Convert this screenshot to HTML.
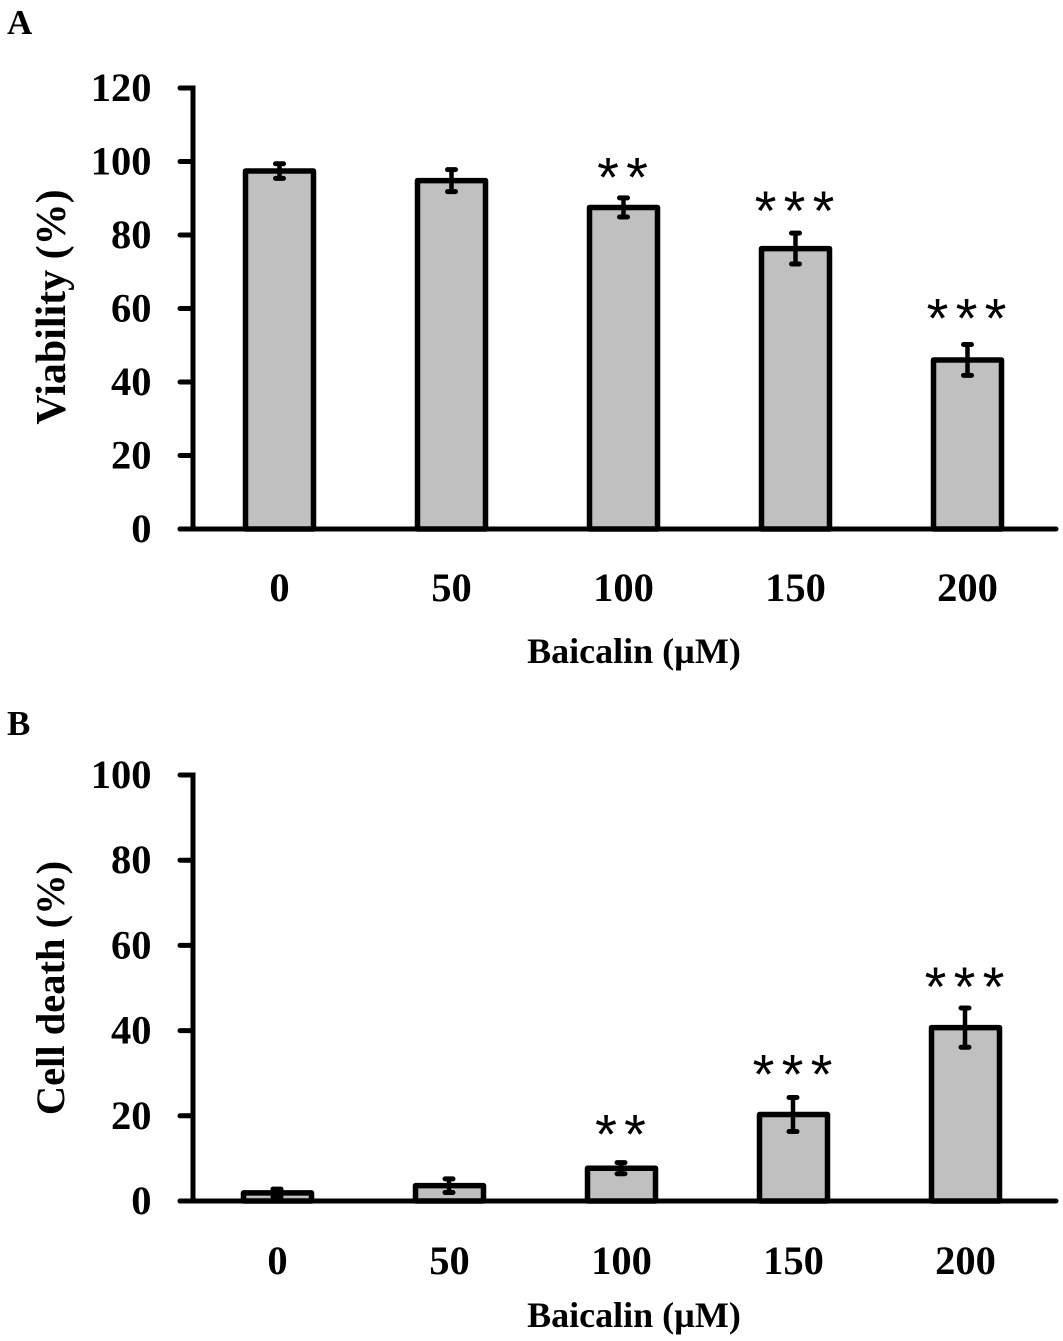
<!DOCTYPE html>
<html lang="en">
<head>
<meta charset="utf-8">
<title>Baicalin viability and cell death</title>
<style>
html,body{margin:0;padding:0;background:#fff;}
svg{display:block;}
text{font-family:"Liberation Serif",serif;font-weight:bold;fill:#000;}
</style>
</head>
<body>
<svg id="figure" xmlns="http://www.w3.org/2000/svg" width="1063" height="1341" viewBox="0 0 1063 1341"></svg>
<script>
const categories = ["0", "50", "100", "150", "200"];
const viabilityValues = [97.4, 94.8, 87.5, 76.3, 46.0];
const viabilityErrors = [2.0, 3.0, 2.6, 4.2, 4.2];
const viabilitySignificance = ["", "", "**", "***", "***"];
const viabilityStarGap = [0, 0, 7.4, 7.9, 9.0];
const viabilityTicks = [0, 20, 40, 60, 80, 100, 120];
const deathValues = [1.9, 3.6, 7.7, 20.3, 40.7];
const deathErrors = [0.9, 1.6, 1.3, 4.0, 4.6];
const deathSignificance = ["", "", "**", "***", "***"];
const deathStarGap = [0, 0, 8.2, 7.0, 6.6];
const deathTicks = [0, 20, 40, 60, 80, 100];

const NS = "http://www.w3.org/2000/svg";
const svg = document.getElementById("figure");

function make(tag, attrs, parent, text) {
  const el = document.createElementNS(NS, tag);
  for (const k in attrs) el.setAttribute(k, attrs[k]);
  if (text !== undefined) el.textContent = text;
  parent.appendChild(el);
  return el;
}

function drawPanel(cfg) {
  const g = make("g", {}, svg);
  
  
  const maxTick = cfg.ticks[cfg.ticks.length - 1];
  const y = v => cfg.y0 - (v / maxTick) * (cfg.y0 - cfg.yTop);
  const x = i => cfg.x0 + i * cfg.step;

  const letter = make("text", {x: cfg.letterX, y: cfg.letterY, "font-size": 35}, g, cfg.letter);
  
  

  cfg.values.forEach((v, i) => {
    const left = x(i) - cfg.barW / 2;
    const bar = make("rect", {x: left, y: y(v), width: cfg.barW, height: cfg.y0 - y(v),
      fill: "#c0c0c0", stroke: "#000", "stroke-width": 5.5, "stroke-linejoin": "round"}, g);
    
    

    const hi = y(v + cfg.errors[i]);
    const lo = y(v - cfg.errors[i]);
    const ex = x(i) + cfg.errDx;
    const eb = make("path", {d: `M${ex} ${hi}V${lo}`, stroke: "#000", "stroke-width": 4.5, fill: "none"}, g);
    
    
    const caps = make("path", {d: `M${ex - 4} ${hi}H${ex + 4}M${ex - 4} ${lo}H${ex + 4}`,
      stroke: "#000", "stroke-width": 5, "stroke-linecap": "round", fill: "none"}, g);
    
    

    if (cfg.sig[i]) {
      const n = cfg.sig[i].length;
      const starCentre = y(v + cfg.errors[i] + cfg.starGap[i]);
      for (let s = 0; s < n; s++) {
        const star = make("text", {x: x(i) + (s - (n - 1) / 2) * 29 - 1, y: starCentre + 26,
          "font-size": 56, "text-anchor": "middle", style: 'font-family:"Liberation Sans",sans-serif;font-weight:normal'}, g, "*");
        
        
      }
    }

    const lab = make("text", {x: x(i), y: cfg.catY, "font-size": 40.5, "text-anchor": "middle"}, g, categories[i]);
    
    
  });

  cfg.ticks.forEach(t => {
    const tick = make("path", {d: `M180 ${y(t)}H191`, stroke: "#000", "stroke-width": 5, "stroke-linecap": "round"}, g);
    
    
    const lab = make("text", {x: 151.5, y: y(t) + 13, "font-size": 40.5, "text-anchor": "end"}, g, String(t));
    
    
  });

  const yAxis = make("path", {d: `M193 ${cfg.yTop - 2.5}V${cfg.y0}`, stroke: "#000", "stroke-width": 5, fill: "none"}, g);
  
  
  const xAxis = make("path", {d: `M180 ${cfg.y0}H1056`, stroke: "#000", "stroke-width": 5, "stroke-linecap": "round", fill: "none"}, g);
  
  

  const yt = make("text", {transform: `translate(${cfg.yTitleX} ${cfg.yTitleY}) rotate(-90)`,
    "font-size": cfg.yTitleSize, "text-anchor": "middle"}, g, cfg.yTitle);
  
  
  const xt = make("text", {x: 634, y: cfg.xTitleY, "font-size": 36, "text-anchor": "middle"}, g, "Baicalin (\u00B5M)");
  
  
}

drawPanel({
  name: "viability-panel", letter: "A", letterX: 7, letterY: 34,
  values: viabilityValues, errors: viabilityErrors, sig: viabilitySignificance, starGap: viabilityStarGap, ticks: viabilityTicks,
  y0: 529, yTop: 88, x0: 279.5, step: 172, barW: 68, errDx: 0,
  catY: 601, xTitleY: 663, yTitle: "Viability (%)", yTitleSize: 42, yTitleX: 65, yTitleY: 307
});
drawPanel({
  name: "cell-death-panel", letter: "B", letterX: 7, letterY: 735,
  values: deathValues, errors: deathErrors, sig: deathSignificance, starGap: deathStarGap, ticks: deathTicks,
  y0: 1201, yTop: 775, x0: 277.5, step: 172, barW: 68, errDx: -0.5,
  catY: 1274, xTitleY: 1327, yTitle: "Cell death (%)", yTitleSize: 40.5, yTitleX: 64, yTitleY: 988
});
</script>
</body>
</html>
